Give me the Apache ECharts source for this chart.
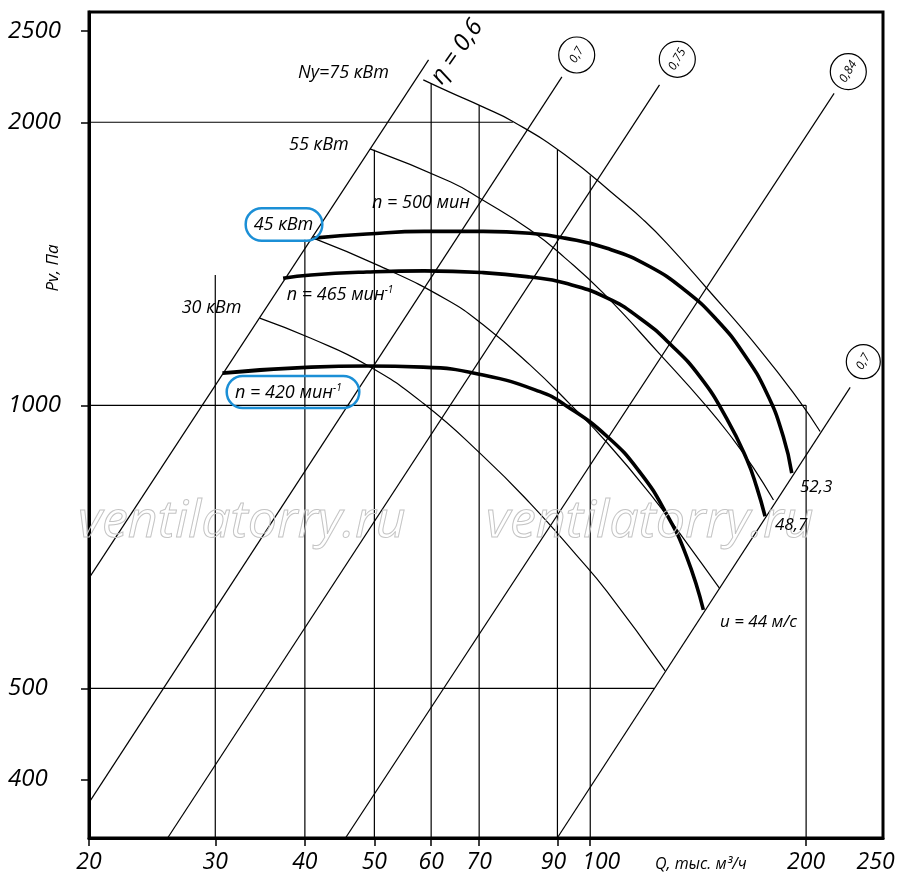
<!DOCTYPE html>
<html>
<head>
<meta charset="utf-8">
<script src="https://cdn.jsdelivr.net/npm/echarts@6/dist/echarts.min.js"></script>
<style>
  html, body { margin: 0; padding: 0; background: #fff; }
  #chart { width: 900px; height: 888px; }
</style>
</head>
<body>
<div id="chart"></div>
<script>
// axis ticks and labels
const qTicks = [20, 30, 40, 50, 60, 70, 90, 100, 200];
const qLabels = [20, 30, 40, 50, 60, 70, 90, 100, 200, 250];
const pTicks = [400, 500, 1000, 2000, 2500];

// fan curves: Q (thous. m3/h) and Pv (Pa)
const n500Q = [41.1, 48.8, 58.7, 70.9, 82.4, 92.2, 105.5, 121.2, 136.3, 150.1, 163.5, 176.3, 185.9, 191];
const n500P = [1506, 1521, 1531, 1531, 1524, 1506, 1469, 1404, 1321, 1233, 1136, 1030, 926, 847];
const n465Q = [37.3, 40.8, 48.8, 58.7, 70.9, 82.4, 92.2, 105.5, 117.4, 129.2, 142.3, 155, 165.3, 170.7, 175.3];
const n465P = [1365, 1376, 1386, 1390, 1384, 1369, 1349, 1301, 1237, 1162, 1072, 968, 876, 818, 762];
const n420Q = [30.7, 40.8, 48.8, 58.5, 70.9, 85.1, 92.2, 105.5, 117.4, 127.9, 136.3, 143.8];
const n420P = [1082, 1098, 1101, 1098, 1077, 1034, 1001, 927, 848, 765, 690, 606];

// motor power lines
const kw75Q = [58.5, 63.8, 70.7, 78.1, 92.3, 110.1, 118.6, 127.9, 145.4, 172.5, 196.2, 209.2];
const kw75P = [2219, 2152, 2078, 2003, 1846, 1654, 1575, 1487, 1332, 1145, 1008, 938];
const kw55Q = [49.3, 63.8, 70.7, 82.4, 92.2, 104.3, 125.1, 145.4, 158.4, 168.9, 180.1];
const kw55P = [1874, 1729, 1654, 1537, 1435, 1316, 1133, 997, 919, 858, 793];
const kw45Q = [41.1, 50.9, 63.1, 70.9, 82.4, 93.7, 105.5, 121.2, 136.3, 151.4];
const kw45P = [1506, 1406, 1295, 1218, 1104, 1003, 913, 805, 714, 639];
const kw30Q = [34.6, 40.7, 48.8, 58.5, 71, 82.4, 95.8, 105.5, 127.2];
const kw30P = [1238, 1179, 1104, 1005, 882, 787, 692, 634, 522];

// efficiency rays (eta 0.6, 0.7, 0.75, 0.84, 0.7 / u = 44 m/s): start and end
const rayQ0 = [20, 20, 25.7, 45.5, 89.8];
const rayP0 = [655, 378, 346, 346, 346];
const rayQ1 = [59.5, 91.3, 124.9, 218.8, 230.4];
const rayP1 = [2330, 2235, 2192, 2147, 1045];

// grid lines that stop at the curves
const vLineQ = [30, 40, 50, 60, 70, 90, 100, 200];
const vLineTop = [1376, 1500, 1870, 2200, 2085, 1870, 1756, 1000];
const hLineP = [2000, 1000, 500];
const hLineEnd = [78, 200, 122.8];

const X_MIN = 20, X_MAX = 256, Y_MIN = 346.6, Y_MAX = 2620;
const FONT = '"Open Sans", "DejaVu Sans", sans-serif';
const BLUE = '#1b8fd6';

function pairs(qs, ps) {
  return qs.map((q, i) => [q, ps[i]]);
}

function line(data, width, smooth) {
  return {
    type: 'line',
    data: data,
    symbol: 'none',
    smooth: smooth ? 0.5 : false,
    silent: true,
    lineStyle: { color: '#000', width: width },
    z: width > 2 ? 4 : 3
  };
}

const series = [];
vLineQ.forEach((q, i) => series.push(line([[q, Y_MIN], [q, vLineTop[i]]], 1.2)));
hLineP.forEach((p, i) => series.push(line([[X_MIN, p], [hLineEnd[i], p]], 1.2)));
rayQ0.forEach((q, i) => series.push(line([[q, rayP0[i]], [rayQ1[i], rayP1[i]]], 1.2)));
series.push(line(pairs(kw75Q, kw75P), 1.2, true));
series.push(line(pairs(kw55Q, kw55P), 1.2, true));
series.push(line(pairs(kw45Q, kw45P), 1.2, true));
series.push(line(pairs(kw30Q, kw30P), 1.2, true));
series.push(line(pairs(n500Q, n500P), 3.6, true));
series.push(line(pairs(n465Q, n465P), 3.6, true));
series.push(line(pairs(n420Q, n420P), 3.6, true));

function txt(x, y, text, size, align) {
  return {
    type: 'text', x: x, y: y, z: 100,
    style: {
      text: text, fill: '#000', fontSize: size, fontStyle: 'italic', fontFamily: FONT,
      align: align || 'left', verticalAlign: 'middle'
    }
  };
}

function supTxt(x, y, main, sup) {
  return {
    type: 'text', x: x, y: y, z: 100,
    style: {
      text: '{a|' + main + '}{s|' + sup + '}',
      align: 'left', verticalAlign: 'middle',
      rich: {
        a: { fontSize: 18, fontStyle: 'italic', fontFamily: FONT, fill: '#000', lineHeight: 20 },
        s: { fontSize: 10, fontStyle: 'italic', fontFamily: FONT, fill: '#000', lineHeight: 20, verticalAlign: 'top' }
      }
    }
  };
}

function ring(cx, cy, r, label) {
  return [
    { type: 'circle', x: cx, y: cy, z: 90, shape: { cx: 0, cy: 0, r: r },
      style: { fill: '#fff', stroke: '#000', lineWidth: 1.2 } },
    { type: 'text', x: cx, y: cy, z: 100, rotation: 60 * Math.PI / 180,
      style: { text: label, fill: '#000', fontSize: 12, fontStyle: 'italic', fontFamily: FONT,
        align: 'center', verticalAlign: 'middle' } }
  ];
}

function watermark(x) {
  return {
    type: 'text', x: x, y: 522, z: 50,
    style: { text: 'ventilatorry.ru', fill: 'rgba(255,255,255,0)', stroke: '#c4c4c4', lineWidth: 1,
      fontSize: 52, fontStyle: 'italic', fontFamily: FONT, align: 'left', verticalAlign: 'middle' }
  };
}

const graphic = [
  watermark(78), watermark(486),
  txt(298, 73, 'Ny=75 кВт', 18),
  txt(289, 145, '55 кВт', 18),
  txt(372, 203, 'n = 500 мин', 18),
  txt(283.5, 224.5, '45 кВт', 18, 'center'),
  { type: 'rect', z: 95, shape: { x: 245.7, y: 208.3, width: 76.6, height: 32.4, r: 16 },
    style: { fill: 'none', stroke: BLUE, lineWidth: 2.5 } },
  supTxt(286.7, 295, 'n = 465 мин', '-1'),
  txt(181.7, 308.3, '30 кВт', 18),
  supTxt(235, 392.7, 'n = 420 мин', '-1'),
  { type: 'rect', z: 95, shape: { x: 226.7, y: 376, width: 132.6, height: 32, r: 16 },
    style: { fill: 'none', stroke: BLUE, lineWidth: 2.5 } },
  txt(800, 486.7, '52,3', 17),
  txt(775, 525, '48,7', 17),
  txt(720, 621.7, 'u = 44 м/с', 17),
  txt(655, 864, 'Q, тыс. м³/ч', 16),
  { type: 'text', x: 53, y: 268, z: 100, rotation: Math.PI / 2,
    style: { text: 'Pv, Па', fill: '#000', fontSize: 17, fontStyle: 'italic', fontFamily: FONT,
      align: 'center', verticalAlign: 'middle' } },
  { type: 'text', x: 457, y: 52, z: 100, rotation: 55 * Math.PI / 180,
    style: { text: 'η = 0,6', fill: '#000', fontSize: 24, fontStyle: 'italic', fontFamily: FONT,
      align: 'center', verticalAlign: 'middle' } }
].concat(
  ring(576.7, 55, 18, '0,7'),
  ring(677.3, 59.3, 18, '0,75'),
  ring(848.3, 71.7, 18, '0,84'),
  ring(863.3, 361.7, 17, '0,7')
);

const xLabelFont = { fontSize: 23, fontStyle: 'italic', fontFamily: FONT, color: '#000' };

const chart = echarts.init(document.getElementById('chart'));
chart.setOption({
  animation: false,
  backgroundColor: '#fff',
  grid: { left: 89, right: 17, top: 12, bottom: 50, show: true, borderColor: '#000', borderWidth: 3 },
  xAxis: {
    type: 'log', logBase: 10, min: X_MIN, max: X_MAX,
    axisLine: { show: true, lineStyle: { color: '#000', width: 3 } },
    axisTick: { show: true, customValues: qTicks, length: 8, lineStyle: { color: '#000', width: 1.5 } },
    axisLabel: Object.assign({
      customValues: qLabels,
      formatter: (v) => {
        const r = Math.round(v);
        if (r === 90) return '{l|90}';
        if (r === 100) return '{r|100}';
        return String(r);
      },
      margin: 13,
      rich: {
        l: Object.assign({ padding: [0, 8, 0, 0] }, xLabelFont),
        r: Object.assign({ padding: [0, 0, 0, 22] }, xLabelFont)
      }
    }, xLabelFont),
    splitLine: { show: false },
    minorTick: { show: false }
  },
  yAxis: {
    type: 'log', logBase: 10, min: Y_MIN, max: Y_MAX,
    axisLine: { show: true, lineStyle: { color: '#000', width: 3 } },
    axisTick: { show: true, customValues: pTicks, length: 8, lineStyle: { color: '#000', width: 1.5 } },
    axisLabel: {
      customValues: pTicks, formatter: (v) => String(Math.round(v)), margin: 81, align: 'left',
      color: '#000', fontSize: 24, fontStyle: 'italic', fontFamily: FONT
    },
    splitLine: { show: false },
    minorTick: { show: false }
  },
  series: series,
  graphic: graphic
});
</script>
</body>
</html>
